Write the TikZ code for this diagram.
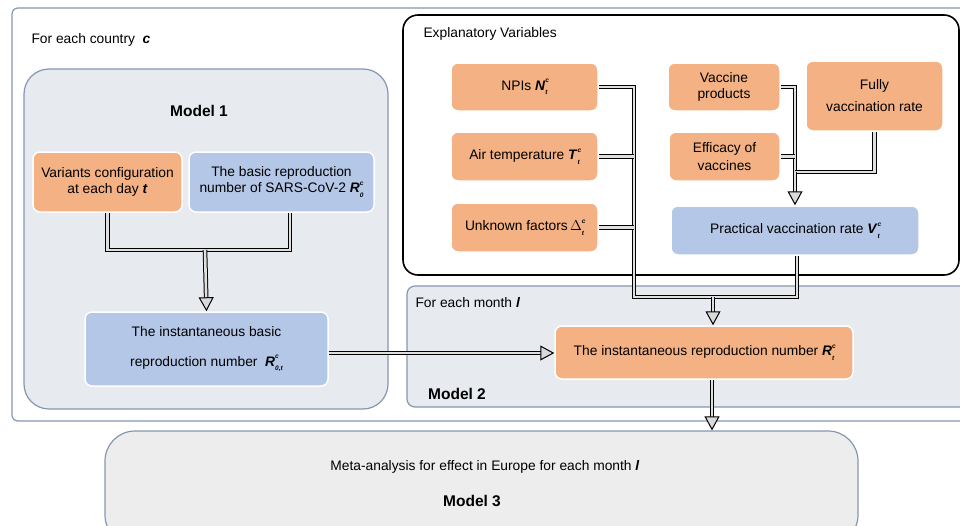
\documentclass[tikz,border=0pt]{standalone}
\usepackage{fontspec}
\setmainfont{Liberation Sans}
\usetikzlibrary{arrows.meta}
\definecolor{varorange}{HTML}{F4B183}
\definecolor{varblue}{HTML}{B4C7E7}
\definecolor{panelfill}{HTML}{E7EBF0}
\definecolor{paneledge}{HTML}{8497B0}
\definecolor{metafill}{HTML}{EDEDED}
\newcommand\supsub[2]{\rlap{\raisebox{1.05ex}{\fontsize{6.5}{6.5}\selectfont\bfseries\itshape #1}}\raisebox{-0.65ex}{\fontsize{6.5}{6.5}\selectfont\bfseries\itshape #2}}
\newcommand\bvar[1]{\textbf{\textit{#1}}}
\tikzset{
  panel/.style={draw=paneledge, line width=1.2pt, fill=panelfill},
  box/.style={draw=white, line width=1.5pt, rounded corners=7pt, align=center, inner sep=0pt},
  obox/.style={box, fill=varorange},
  bbox/.style={box, fill=varblue},
  pipe/.style={draw=black, line width=1pt, double=gray!25, double distance=2.6pt},
  pipearrow/.style={pipe, -{Triangle[length=14pt,width=15pt,fill=gray!30]}},
  modellbl/.style={font=\fontsize{15.5}{18}\selectfont\bfseries}
}
\begin{document}
\begin{tikzpicture}[x=1pt,y=-1pt,font=\fontsize{13.8}{16.5}\selectfont]
  \useasboundingbox (0,0) rectangle (960,525);
  % panels
  \node[draw=paneledge, line width=1.2pt, rounded corners=6pt, minimum width=963pt, minimum height=413pt] (country) at (493.5,214.5) {};
  \node[panel, rounded corners=25pt, minimum width=364pt, minimum height=340pt] (model1) at (206,239) {};
  \node[panel, rounded corners=8pt, minimum width=568pt, minimum height=121pt] (model2) at (691,346.5) {};
  \node[draw=black, line width=1.6pt, fill=white, rounded corners=15pt, minimum width=556pt, minimum height=260pt] (expl) at (681,145) {};
  \node[panel, fill=metafill, rounded corners=30pt, minimum width=753pt, minimum height=114pt] (model3) at (481.5,488) {};
  % labels
  \node[anchor=west] (countrylbl) at (28,40) {For each country \ \bvar{c}};
  \node[modellbl] (m1lbl) at (199,111) {Model 1};
  \node[anchor=west] (expllbl) at (420,34) {Explanatory Variables};
  \node[anchor=west] (monthlbl) at (412,303) {For each month \bvar{l}};
  \node[modellbl] (m2lbl) at (457,394) {Model 2};
  \node (metalbl) at (485,467) {Meta-analysis for effect in Europe for each month \bvar{l}};
  \node[modellbl] (m3lbl) at (472,501) {Model 3};
  % model 1
  \node[obox, minimum width=149pt, minimum height=60pt] (var) at (107.5,182) {Variants configuration\\at each day \bvar{t}};
  \node[bbox, minimum width=185pt, minimum height=60pt] (basic) at (281.5,182) {The basic reproduction\\number of SARS-CoV-2 \bvar{R}\supsub{c}{0}};
  \node[bbox, minimum width=243pt, minimum height=74pt] (inst0) at (206.5,349) {The instantaneous basic\\[13.5pt]reproduction number \ \bvar{R}\supsub{c}{0,t}};
  % explanatory variables
  \node[obox, minimum width=147pt, minimum height=48pt] (npi) at (524.5,87) {NPIs \bvar{N}\supsub{c}{t}};
  \node[obox, minimum width=147pt, minimum height=49pt] (air) at (524.5,156.5) {Air temperature \bvar{T}\supsub{c}{t}};
  \node[obox, minimum width=147pt, minimum height=49pt] (unk) at (524.5,227.5) {Unknown factors\,$\Delta$\supsub{c}{t}};
  \node[obox, minimum width=112pt, minimum height=48pt] (vprod) at (724,87) {Vaccine\\products};
  \node[obox, minimum width=111pt, minimum height=49pt] (eff) at (724.5,156.5) {Efficacy of\\[2pt]vaccines};
  \node[obox, minimum width=137pt, minimum height=70pt] (full) at (874.5,96) {Fully\\[5.5pt]vaccination rate};
  \node[bbox, minimum width=248pt, minimum height=49pt] (prac) at (795,230.5) {Practical vaccination rate \bvar{V}\supsub{c}{t}};
  % model 2
  \node[obox, minimum width=298pt, minimum height=53pt] (inst) at (704,352.5) {The instantaneous reproduction number \bvar{R}\supsub{c}{t}};
  % connectors
  \coordinate (m1join) at (205,250);
  \draw[pipe] (var.south) |- (m1join) -| ([xshift=8.5pt]basic.south);
  \draw[pipearrow] (m1join) -- (inst0.north);
  \coordinate (vjoin) at (795,172);
  \draw[pipe] (vprod.east) -| (vjoin);
  \draw[pipe] (eff.east) -- (eff.east -| vjoin);
  \draw[pipe] (full.south) |- (vjoin);
  \draw[pipearrow] (vjoin) -- (prac.north);
  \coordinate (ejoin) at (634,297);
  \draw[pipe] (npi.east) -| (ejoin) -| ([xshift=2pt]prac.south);
  \draw[pipe] (air.east) -- (air.east -| ejoin);
  \draw[pipe] (unk.east) -- (unk.east -| ejoin);
  \coordinate (m2join) at (713,297);
  \draw[pipearrow] (m2join) -- (m2join |- inst.north);
  \draw[pipearrow] ([yshift=-4pt]inst0.east) -- ([yshift=-4pt]inst0.east -| inst.west);
  \draw[pipearrow] ([xshift=8pt]inst.south) -- ([xshift=8pt]inst.south |- model3.north);
\end{tikzpicture}
\end{document}
